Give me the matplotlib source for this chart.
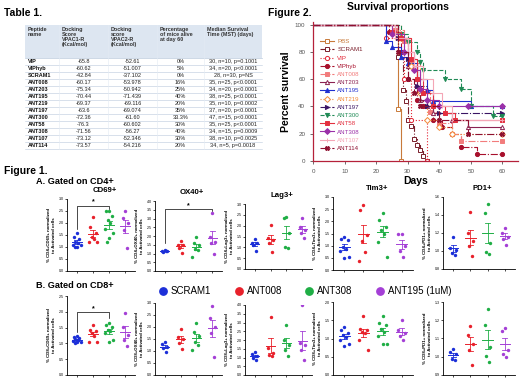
import numpy as np
import matplotlib
matplotlib.use("Agg")
import matplotlib.pyplot as plt
from matplotlib.lines import Line2D
from matplotlib.patches import Rectangle

plt.rcParams['font.family'] = ['Liberation Sans', 'DejaVu Sans']

# ---------------- Table 1 data ----------------
peptides = ["VIP", "VIPhyb", "SCRAM1", "ANT008", "ANT203", "ANT195", "ANT219",
            "ANT197", "ANT300", "ANT58", "ANT308", "ANT107", "ANT114"]
vpac1 = ["-65.8", "-60.62", "-42.84", "-60.17", "-75.34", "-70.44", "-69.37",
         "-63.6", "-72.36", "-76.3", "-71.56", "-73.12", "-73.57"]
vpac2 = ["-52.61", "-51.007", "-37.102", "-53.978", "-50.942", "-71.439", "-69.116",
         "-69.074", "-61.60", "-60.602", "-56.27", "-52.346", "-54.216"]
alive60 = ["0%", "5%", "0%", "16%", "25%", "40%", "20%", "35%", "33.3%", "30%",
           "40%", "30%", "20%"]
mst = ["30, n=10, p=0.1001", "34, n=20, p<0.0001", "28, n=30, p=NS",
       "35, n=25, p<0.0001", "34, n=20, p<0.0001", "38, n=25, p<0.0001",
       "35, n=10, p=0.0002", "37, n=20, p<0.0001", "47, n=15, p<0.0001",
       "35, n=25, p<0.0001", "34, n=15, p=0.0009", "38, n=10, p=0.0025",
       "34, n=5, p=0.0018"]
headers = ["Peptide\nname", "Docking\nScore\nVPAC1-R\n(Kcal/mol)",
           "Docking\nscore\nVPAC2-R\n(Kcal/mol)", "Percentage\nof mice alive\nat day 60",
           "Median Survival\nTime (MST) (days)"]

# ---------------- Figure 2 survival data ----------------
surv_names = ["PBS", "SCRAM1", "VIP", "VIPhyb", "ANT008", "ANT203", "ANT195", "ANT219",
              "ANT197", "ANT300", "ANT58", "ANT308", "ANT107", "ANT114"]
surv_days = [[27, 28],
             [27, 28.5, 29.5, 30, 31, 32, 33, 34, 35, 36],
             [23, 29, 31, 36],
             [24, 28, 30, 33, 35, 38, 41, 44, 47, 52],
             [26, 29, 31, 34, 37, 40, 44, 47],
             [26, 28, 30, 33, 34, 36, 38, 44, 49],
             [23, 25, 28, 30, 33, 36, 38, 50],
             [28, 31, 34, 36, 40, 44],
             [27, 30, 33, 36, 40],
             [28, 30, 33, 34, 35, 42, 47, 50, 57],
             [25, 28, 31, 33, 35, 38, 42, 45],
             [25, 29, 32, 34, 36, 40, 49],
             [26, 30, 32, 35, 38, 41, 44],
             [27, 30, 32, 34, 40, 49]]
surv_pct = [[38, 0],
            [76, 52, 44, 30, 26, 16, 12, 8, 4, 0],
            [90, 60, 30, 0],
            [95, 80, 60, 45, 40, 30, 25, 20, 10, 5],
            [96, 88, 72, 52, 36, 28, 20, 15],
            [95, 90, 70, 55, 45, 40, 35, 30, 25],
            [88, 84, 76, 72, 60, 52, 44, 40],
            [90, 70, 50, 30, 25, 20],
            [90, 75, 55, 40, 35],
            [93, 87, 80, 73, 67, 60, 53, 40, 33],
            [95, 90, 75, 60, 50, 40, 35, 30],
            [93, 80, 67, 53, 45, 40, 40],
            [90, 80, 70, 60, 50, 40, 30],
            [80, 60, 50, 40, 30, 20]]
surv_colors = ['#c87a3a', '#7a1f2b', '#e32434', '#a8102c', '#f27c7c', '#8b2252',
               '#1f2fd0', '#f28a3a', '#3a1464', '#1f8a55', '#e3303f', '#9a30a8',
               '#f4a6b6', '#8e1030']
surv_markers = ['s', 's', 'o', 'o', 's', '^', '^', 'D', '>', 'v', 's', 'D', '+', 'X']
surv_filled = [False, False, False, True, True, False, True, False, True, True, True,
               True, True, True]
surv_ls = ['-', '-.', ':', '-.', '-.', '-', '-', ':', '-.', '--', '-', '-', '-', '-.']

# ---------------- Figure 1 data ----------------
groups = ["SCRAM1", "ANT008", "ANT308", "ANT195 (1uM)"]
group_colors = ['#1c2fd8', '#e8212b', '#1fae45', '#a43fd6']

cd4_cd69 = [[1.57, 1.43, 1.32, 1.22, 1.15, 1.08, 1.08, 1.01, 1.01],
            [2.23, 1.85, 1.6, 1.43, 1.32, 1.22, 1.22],
            [2.52, 2.52, 2.3, 2.13, 1.99, 1.74, 1.57, 1.36, 1.22],
            [2.48, 2.2, 1.99, 1.71, 0.94]]
cd4_ox40 = [[1.22, 1.15, 1.12, 1.1, 1.12],
            [1.7, 1.5, 1.5, 1.3, 1.05],
            [1.94, 1.6, 1.49, 1.26, 1.2, 0.8],
            [3.3, 1.95, 1.65, 1.6, 1.0]]
cd4_lag3 = [[1.38, 1.2, 1.2, 1.1, 0.83],
            [2.03, 1.45, 1.35, 1.2, 0.8],
            [2.4, 2.35, 1.66, 1.01, 0.97],
            [2.35, 1.94, 1.8, 1.66, 1.43]]
cd4_tim3 = [[1.36, 1.28, 1.23, 0.95, 0.86, 0.78, 0.53, 0.49],
            [2.67, 2.47, 1.45, 1.19, 0.74, 0.37],
            [2.35, 2.06, 1.77, 1.65, 1.48, 1.15, 0.53],
            [1.48, 1.48, 0.99, 0.78, 0.53]]
cd4_pd1 = [[1.16, 1.03, 1.01, 0.98, 0.96],
           [1.43, 1.2, 1.11, 1.06, 0.94],
           [1.52, 1.42, 1.09, 0.99, 0.97],
           [1.26, 1.2, 1.16, 1.13, 1.07]]
cd8_cd69 = [[1.24, 1.2, 1.17, 1.14, 1.11, 1.08, 1.06, 1.03, 1.01],
            [1.58, 1.43, 1.38, 1.32, 1.22, 1.06, 1.06],
            [1.66, 1.58, 1.51, 1.43, 1.38, 1.32, 1.11, 1.06],
            [1.97, 1.53, 1.27, 1.11, 0.93]]
cd8_ox40 = [[1.37, 1.29, 1.17, 1.12, 0.96],
            [1.92, 1.58, 1.5, 1.33, 1.08],
            [2.17, 1.79, 1.62, 1.37, 1.25, 1.04],
            [2.87, 2.37, 2.0, 1.75, 0.75]]
cd8_lag3 = [[1.3, 1.2, 1.1, 1.0, 0.85],
            [3.33, 1.52, 1.24, 1.14, 1.09],
            [2.86, 2.0, 1.71, 1.43, 1.09],
            [4.0, 1.81, 1.71, 1.43, 0.86]]
cd8_tim3 = [[1.32, 1.23, 1.15, 1.09, 1.05, 0.95, 0.86, 0.79],
            [1.61, 1.27, 1.23, 1.18, 1.14, 0.95, 0.68],
            [1.61, 1.43, 1.36, 1.25, 1.18, 1.06, 0.86, 0.84],
            [1.52, 1.23, 1.14, 1.06, 0.95]]
cd8_pd1 = [[1.045, 1.025, 1.015, 0.986, 0.98],
           [1.17, 1.12, 1.07, 1.035, 0.957],
           [1.26, 1.175, 1.055, 1.006, 0.973],
           [1.16, 1.14, 1.035, 1.015, 1.0]]

W, H = 520, 381
fig = plt.figure(figsize=(5.2, 3.81), dpi=100)


def px_axes(left, top, width, height):
    return fig.add_axes([left / W, 1 - (top + height) / H, width / W, height / H])


base = fig.add_axes([0, 0, 1, 1])
base.set_xlim(0, W)
base.set_ylim(H, 0)
base.axis('off')

# ---------------- Table 1 ----------------
base.text(4, 13, "Table 1.", fontsize=7.5, fontweight='bold', va='center')
col_x = [25, 59, 108, 157, 204, 262]
tab_top, head_bot, row_h = 25, 58, 7.0
base.add_patch(Rectangle((col_x[0], tab_top), col_x[-1] - col_x[0], head_bot - tab_top,
                         facecolor='#dde6f1', edgecolor='none'))
for i, h in enumerate(headers):
    base.text(col_x[i] + 3, tab_top + 2, h, fontsize=3.9, fontweight='bold',
              va='top', ha='left', color='#333333', linespacing=1.0)
cols = [peptides, vpac1, vpac2, alive60, mst]
for r in range(len(peptides)):
    yc = head_bot + row_h * (r + 0.5)
    base.plot([col_x[0], col_x[-1]], [head_bot + row_h * (r + 1)] * 2,
              color='#b9c9dc', lw=0.4)
    for c in range(5):
        if c == 0:
            base.text(col_x[0] + 3, yc, cols[c][r], fontsize=4, fontweight='bold',
                      va='center', ha='left', color='#111111')
        else:
            base.text((col_x[c] + col_x[c + 1]) / 2, yc, cols[c][r], fontsize=4,
                      va='center', ha='center', color='#222222')
base.plot([col_x[0], col_x[-1]], [head_bot, head_bot], color='#b9c9dc', lw=0.5)
for x in col_x[1:-1]:
    base.plot([x, x], [tab_top, head_bot + row_h * len(peptides)], color='#e4ebf3', lw=0.4)

# ---------------- Figure 2 ----------------
base.text(268, 13, "Figure 2.", fontsize=7.5, fontweight='bold', va='center')
base.text(398, 7, "Survival proportions", fontsize=7.5, fontweight='bold',
          ha='center', va='center')
ax = px_axes(313, 22, 205, 139)
handles = []
for name, d, p, col, mk, fl, ls in zip(surv_names, surv_days, surv_pct, surv_colors,
                                        surv_markers, surv_filled, surv_ls):
    xs = [0] + d
    ys = [100] + p
    if p[-1] > 0:
        xs = xs + [60]
        ys = ys + [p[-1]]
    ax.step(xs, ys, where='post', color=col, lw=0.8, ls=ls)
    fc = col if fl else 'white'
    mx = d + ([60] if p[-1] > 0 else [])
    my = p + ([p[-1]] if p[-1] > 0 else [])
    ax.plot(mx, my, ls='none', marker=mk, ms=3, mfc=fc, mec=col, mew=0.7)
    handles.append(Line2D([], [], color=col, ls=ls, lw=0.8, marker=mk, ms=3,
                          mfc=fc, mec=col, mew=0.7, label=name))
ax.set_xlim(0, 65)
ax.set_ylim(0, 102)
ax.set_xticks(range(0, 61, 10))
ax.set_yticks(range(0, 101, 20))
ax.tick_params(labelsize=4.5, length=2, width=0.6, colors='#555555')
for s in ['top', 'right']:
    ax.spines[s].set_visible(False)
for s in ['left', 'bottom']:
    ax.spines[s].set_color('#b5213a')
    ax.spines[s].set_linewidth(0.9)
ax.set_xlabel("Days", fontsize=7.5, fontweight='bold', labelpad=2)
ax.set_ylabel("Percent survival", fontsize=7.5, fontweight='bold', labelpad=3)
ax.legend(handles=handles, loc='upper left', bbox_to_anchor=(0.02, 0.9), fontsize=4.4,
          frameon=False, handlelength=2.2, labelspacing=0.48, borderpad=0,
          handletextpad=0.6, labelcolor=surv_colors)

# ---------------- Figure 1 ----------------
base.text(4, 171, "Figure 1.", fontsize=7.5, fontweight='bold', va='center')
base.text(36, 181, "A. Gated on CD4+", fontsize=6.6, fontweight='bold', va='center')
base.text(36, 286, "B. Gated on CD8+", fontsize=6.6, fontweight='bold', va='center')

leg_x = [163, 239, 309, 380]
for x, g, c in zip(leg_x, groups, group_colors):
    base.scatter([x], [291], s=28, color=c)
    base.text(x + 8, 291, g, fontsize=7, va='center', ha='left')

jit = [0, -0.17, 0.17, -0.08, 0.08, -0.25, 0.25, 0.0, -0.12, 0.12]


def scatter_panel(rect, data, yticks, ylabel, title=None, bracket=None):
    a = px_axes(*rect)
    for i, (vals, c) in enumerate(zip(data, group_colors)):
        x0 = i + 1
        xs = [x0 + jit[k % len(jit)] for k in range(len(vals))]
        a.scatter(xs, vals, s=6, color=c, linewidths=0, zorder=3)
        m = np.mean(vals)
        se = np.std(vals, ddof=1) / np.sqrt(len(vals))
        a.plot([x0 - 0.3, x0 + 0.3], [m, m], color=c, lw=0.7)
        a.plot([x0, x0], [m - se, m + se], color=c, lw=0.6)
        a.plot([x0 - 0.15, x0 + 0.15], [m + se] * 2, color=c, lw=0.6)
        a.plot([x0 - 0.15, x0 + 0.15], [m - se] * 2, color=c, lw=0.6)
    a.set_xlim(0.4, 4.6)
    a.set_ylim(yticks[0], yticks[-1])
    a.set_xticks([1, 2, 3, 4])
    a.set_xticklabels([])
    a.set_yticks(yticks)
    a.set_yticklabels(["%.1f" % t for t in yticks])
    a.tick_params(labelsize=2.6, length=1.5, width=0.5, pad=1)
    for s in ['top', 'right']:
        a.spines[s].set_visible(False)
    for s in ['left', 'bottom']:
        a.spines[s].set_linewidth(0.6)
    a.set_ylabel(ylabel, fontsize=3.2, fontweight='bold', labelpad=2, linespacing=1.1)
    if title:
        a.text(0.55, 1.07, title, transform=a.transAxes, ha='center', va='bottom',
               fontsize=5.6, fontweight='bold')
    if bracket:
        x1, x2, yb, y1, y2 = bracket
        a.plot([x1, x1, x2, x2], [y1, yb, yb, y2], color='k', lw=0.5, clip_on=False)
        a.text((x1 + x2) / 2, yb, "*", ha='center', va='bottom', fontsize=5,
               fontweight='bold', clip_on=False)
    return a


t05 = lambda top: list(np.round(np.arange(0, top + 0.01, 0.5), 2))

scatter_panel((67, 199, 68, 72), cd4_cd69, t05(3.0),
              "% CD4+CD69+ normalized\nto Activated cells", "CD69+",
              (1, 3, 2.72, 1.75, 2.6))
scatter_panel((155, 201, 67, 70), cd4_ox40, t05(4.0),
              "% CD4+OX40+ normalized\nto Activated cells", "OX40+",
              (1, 4, 3.55, 1.6, 3.45))
scatter_panel((245, 204, 67, 65), cd4_lag3, t05(3.0),
              "% CD4+Lag3+ normalized\nto Activated cells", "Lag3+")
scatter_panel((333, 197, 80, 73), cd4_tim3, t05(3.0),
              "% CD4+Tim3+ normalized\nto Activated cells", "Tim3+")
scatter_panel((443, 197, 72, 72), cd4_pd1, [0.8, 1.0, 1.2, 1.4, 1.6],
              "% CD4+PD1+ normalized\nto Activated cells", "PD1+")

scatter_panel((67, 296, 68, 79), cd8_cd69, t05(2.5),
              "% CD8+CD69+ normalized\nto Activated cells",
              bracket=(1, 3, 2.0, 1.35, 1.8))
scatter_panel((155, 303, 67, 72), cd8_ox40, t05(3.0),
              "% CD8+OX40+ normalized\nto Activated cells")
scatter_panel((245, 305, 67, 70), cd8_lag3, t05(4.0),
              "% CD8+Lag3+ normalized\nto Activated cells")
scatter_panel((333, 302, 80, 73), cd8_tim3, t05(2.0),
              "% CD8+Tim3+ normalized\nto Activated cells")
scatter_panel((443, 302, 72, 73), cd8_pd1, [0.9, 1.0, 1.1, 1.2, 1.3],
              "% CD8+PD1+ normalized\nto Activated cells")

fig.savefig("out.png", dpi=100)
